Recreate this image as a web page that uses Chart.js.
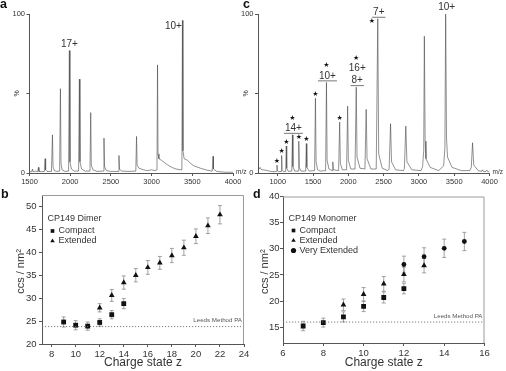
<!DOCTYPE html>
<html>
<head>
<meta charset="utf-8">
<title>CP149 mass spectra and CCS</title>
<script src="https://cdn.jsdelivr.net/npm/chart.js@4.4.0/dist/chart.umd.min.js"></script>
<style>
  html, body { margin: 0; padding: 0; background: #fff; }
  #figure { position: relative; width: 506px; height: 371px; overflow: hidden; }
  #figure canvas { position: absolute; left: 0; top: 0; }
</style>
</head>
<body>
<div id="figure">
  <canvas id="spec-a" width="506" height="371"></canvas>
  <canvas id="spec-c" width="506" height="371"></canvas>
  <canvas id="ccs-b" width="506" height="371"></canvas>
  <canvas id="ccs-d" width="506" height="371"></canvas>
</div>
<script>
// panel a: dimer spectrum (m/z, %)
const specAMz = [1500, 1528, 1537, 1543, 1575, 1600, 1610, 1616, 1650, 1682, 1692, 1698, 1715,
  1770, 1782, 1789, 1805, 1835, 1870, 1880, 1887, 1900, 1935, 1980, 1990, 1997, 2015, 2050,
  2103, 2113, 2120, 2140, 2185, 2243, 2252, 2259, 2280, 2330, 2406, 2415, 2422, 2445, 2500,
  2590, 2599, 2606, 2630, 2720, 2806, 2815, 2822, 2845, 2900, 2950, 3000, 3040, 3066,
  3073, 3079, 3090, 3120, 3160, 3200, 3250, 3300, 3360, 3372,
  3379, 3385, 3400, 3440, 3480, 3520, 3600, 3680, 3745, 3755, 3760, 3800, 3900, 4000];
const specAPct = [0.8, 0.8, 2.5, 0.8, 1.2, 0.8, 3.5, 1, 0.8, 1, 9, 2, 1,
  1, 24, 4, 1.5, 1, 1.2, 53, 6, 2, 1, 1.2, 77, 7, 2.5, 1.2,
  1.2, 59, 7, 2.5, 1.2, 1.2, 38, 5, 2, 1, 1.2, 22, 4, 1.5, 1,
  1, 11, 2.5, 1.2, 1, 1.2, 23, 5, 3, 2, 1.5, 2, 1.5, 2,
  68, 12, 9, 8, 6.5, 5, 3.5, 2.5, 2, 2,
  96, 14, 9, 8, 6, 4.5, 3, 1.8, 1.2, 10.5, 2.5, 1, 0.5, 0.5];
const specATicks = [1500, 2000, 2500, 3000, 3500, 4000];
const specALabelMz = [1990, 3379];
const specALabelText = ['17+', '10+'];

// panel c: monomer + dimer spectrum
const specCMz = [720, 735, 750, 770, 800, 850, 900, 960, 980, 989, 995, 1010,
  1046, 1055, 1061, 1085, 1112, 1121, 1127, 1150, 1199, 1208, 1215, 1240,
  1289, 1298, 1305, 1330, 1395, 1405, 1412, 1445, 1522, 1534, 1543, 1565, 1600,
  1678, 1690, 1699, 1725, 1770, 1780, 1788, 1862, 1877, 1887, 1915,
  1975, 1990, 2000, 2035, 2095, 2112, 2123, 2165, 2235, 2253, 2265, 2320,
  2395, 2417, 2430, 2480, 2560, 2578, 2598, 2612, 2670, 2780, 2794, 2814, 2830, 2900,
  3030, 3052, 3068, 3077, 3088, 3100, 3160, 3280, 3350, 3368, 3379, 3391, 3405, 3470, 3600, 3720,
  3742, 3760, 3777, 3840, 3890, 3900, 3912, 3950, 3962, 3975, 4000];
const specCPct = [4, 2.5, 3.5, 2, 2, 1.5, 1, 0.8, 1, 5, 1.5, 0.8,
  1, 11, 2, 0.8, 1, 17, 3, 1, 1.2, 24, 4, 1.2,
  1.2, 20, 3.5, 1.2, 1.2, 18.5, 3.5, 1.2, 1.5, 47, 7, 2, 1.2,
  1.5, 57, 8, 2.5, 1.5, 7, 2, 1.5, 32, 6, 2,
  2, 42, 8, 2.5, 2.5, 54, 10, 3, 2.5, 40, 9, 2.5,
  2.5, 97, 12, 3, 1.5, 2.5, 31, 7, 2, 1.5, 3, 29.5, 7, 2,
  1.5, 4, 14, 86, 20, 9, 3.5, 1.5, 4.5, 16, 100, 22, 10, 3.5, 1.5, 1.5,
  3.5, 19, 5, 1.5, 1, 2, 1, 1, 1.8, 0.8, 0.8];
const specCTicks = [1000, 1500, 2000, 2500, 3000, 3500, 4000];
const specCStarMz = [989, 1055, 1121, 1208, 1298, 1405, 1534, 1690, 1877, 2112, 2417];
const specCLabelMz = [1208, 1690, 2112, 2417, 3379];
const specCLabelText = [['14+'], ['10+'], ['16+', '8+'], ['7+'], ['10+']];
const specCUnderlined = [true, true, true, true, false];
const specPctTicks = [0, 50, 100];

// panel b: CP149 dimer CCS
const dimerCompactZ = [9, 10, 11, 12, 13, 14];
const dimerCompactCcs = [24.8, 24.1, 23.9, 24.7, 26.4, 28.8];
const dimerCompactErr = [1.1, 1.0, 0.9, 0.8, 0.9, 1.1];
const dimerExtendedZ = [12, 13, 14, 15, 16, 17, 18, 19, 20, 21, 22];
const dimerExtendedCcs = [27.9, 30.6, 33.4, 35.0, 36.7, 37.7, 39.3, 41.0, 43.5, 45.8, 48.2];
const dimerExtendedErr = [0.9, 1.3, 1.45, 1.45, 1.5, 1.4, 1.55, 1.65, 1.6, 1.7, 2.0];
const dimerLeedsPa = 23.8;
const dimerZTicks = [8, 10, 12, 14, 16, 18, 20, 22, 24];
const dimerCcsTicks = [20, 25, 30, 35, 40, 45, 50];

// panel d: CP149 monomer CCS
const monoCompactZ = [7, 8, 9, 10, 11, 12];
const monoCompactCcs = [15.25, 15.9, 17.0, 19.0, 20.7, 22.4];
const monoCompactErr = [0.9, 0.85, 0.95, 1.0, 1.05, 1.0];
const monoExtendedZ = [9, 10, 11, 12, 13];
const monoExtendedCcs = [19.3, 21.3, 23.3, 25.1, 26.8];
const monoExtendedErr = [1.1, 1.3, 1.4, 1.4, 1.4];
const monoVeryExtZ = [12, 13, 14, 15];
const monoVeryExtCcs = [27.0, 28.5, 30.1, 31.4];
const monoVeryExtErr = [1.6, 1.7, 1.75, 1.75];
const monoLeedsPa = 16.0;
const monoZTicks = [6, 8, 10, 12, 14, 16];
const monoCcsTicks = [15, 20, 25, 30, 35, 40];

const FONT = '"Liberation Sans", Arial, Helvetica, sans-serif';
const INK = '#333';
const AXIS = '#555';
const PAGE_W = 506, PAGE_H = 371;

// padding so the plot area lands on the wanted box
function boxPadding(box, yW, xH) {
    return { left: box.left - yW, top: box.top, right: PAGE_W - box.right, bottom: PAGE_H - box.bottom - xH };
}

function fixedTicks(values) {
    return scale => { scale.ticks = values.map(v => ({ value: v })); };
}

function drawText(ctx, str, x, y, size, o = {}) {
    ctx.save();
    ctx.font = (o.bold ? 'bold ' : '') + size + 'px ' + (o.family || FONT);
    ctx.fillStyle = o.color || INK;
    ctx.textAlign = o.align || 'left';
    ctx.textBaseline = o.baseline || 'middle';
    if (o.rotate) {
        ctx.translate(x, y);
        ctx.rotate(o.rotate);
        ctx.fillText(str, 0, 0);
    } else {
        ctx.fillText(str, x, y);
    }
    ctx.restore();
}

function drawMarker(ctx, style, x, y, r) {
    ctx.beginPath();
    if (style === 'rect') {
        const s = r * Math.SQRT1_2;
        ctx.rect(x - s, y - s, 2 * s, 2 * s);
    } else if (style === 'triangle') {
        ctx.moveTo(x, y - r);
        ctx.lineTo(x + r * 0.866, y + r * 0.5);
        ctx.lineTo(x - r * 0.866, y + r * 0.5);
        ctx.closePath();
    } else {
        ctx.arc(x, y, r, 0, Math.PI * 2);
    }
    ctx.fill();
}

// labels, stars, axis titles for the spectra
const spectrumDecor = {
    id: 'spectrumDecor',
    afterDraw(chart, args, opts) {
        const { ctx, chartArea: area } = chart;
        const x = chart.scales.x, y = chart.scales.y;
        const topOf = m => y.getPixelForValue(opts.pct[opts.mz.indexOf(m)]);

        drawText(ctx, opts.letter, opts.letterX, 7.5, 12.5, { bold: true, color: '#111', baseline: 'alphabetic' });
        drawText(ctx, '%', area.left - 12, (area.top + area.bottom) / 2, 7, { align: 'center', rotate: -Math.PI / 2 });
        drawText(ctx, 'm/z', area.right + 3, area.bottom - 1, 6.5);

        const stackTop = {};
        opts.labelMz.forEach((m, i) => {
            const px = x.getPixelForValue(m);
            const py = topOf(m);
            const lines = [].concat(opts.labelText[i]);
            if (opts.labelSide && opts.labelSide[i] === 'left') {
                drawText(ctx, lines[0], px - 0.5, py + 6, 10, { align: 'right' });
                return;
            }
            const cx = px + (opts.labelShift || 0);
            if (opts.underline && opts.underline[i]) {
                ctx.save();
                ctx.font = '10px ' + FONT;
                const w = ctx.measureText(lines[lines.length - 1]).width + 2;
                ctx.strokeStyle = '#555';
                ctx.lineWidth = 0.8;
                ctx.beginPath();
                ctx.moveTo(cx - w / 2, py - 1.5);
                ctx.lineTo(cx + w / 2, py - 1.5);
                ctx.stroke();
                ctx.restore();
            }
            let cy = py - 6.5;
            for (let k = lines.length - 1; k >= 0; k--) {
                drawText(ctx, lines[k], cx, cy, 10, { align: 'center' });
                stackTop[m] = cy;
                cy -= 12.4;
            }
        });

        (opts.starMz || []).forEach(m => {
            const px = x.getPixelForValue(m);
            const py = topOf(m);
            let sx = px;
            let sy = stackTop[m] !== undefined ? stackTop[m] - 10.5 : py - 4;
            if (sy < area.top + 2) {
                sx = px - 6;
                sy = py + 2;
            }
            drawText(ctx, '\u2605', sx, sy, 7, { align: 'center', family: '"DejaVu Sans"', color: '#111' });
        });
    }
};

// error bars, frame, legend and titles for the CCS plots
const ccsDecor = {
    id: 'ccsDecor',
    beforeDatasetsDraw(chart) {
        const { ctx } = chart;
        const x = chart.scales.x, y = chart.scales.y;
        ctx.save();
        ctx.strokeStyle = '#8c8c8c';
        ctx.lineWidth = 0.8;
        chart.data.datasets.forEach(ds => {
            if (!ds.errors) return;
            ds.data.forEach((p, i) => {
                const px = x.getPixelForValue(p.x);
                const y1 = y.getPixelForValue(p.y - ds.errors[i]);
                const y2 = y.getPixelForValue(p.y + ds.errors[i]);
                ctx.beginPath();
                ctx.moveTo(px, y1); ctx.lineTo(px, y2);
                ctx.moveTo(px - 2, y1); ctx.lineTo(px + 2, y1);
                ctx.moveTo(px - 2, y2); ctx.lineTo(px + 2, y2);
                ctx.stroke();
            });
        });
        ctx.restore();
    },
    afterDraw(chart, args, opts) {
        const { ctx, chartArea: area } = chart;
        const y = chart.scales.y;

        // grey frame on top and right
        ctx.save();
        ctx.strokeStyle = '#9a9a9a';
        ctx.lineWidth = 1;
        ctx.beginPath();
        ctx.moveTo(area.left, area.top + 0.5);
        ctx.lineTo(area.right - 0.5, area.top + 0.5);
        ctx.lineTo(area.right - 0.5, area.bottom);
        ctx.stroke();
        ctx.restore();

        drawText(ctx, opts.letter, opts.letterX, 198, 12.5, { bold: true, color: '#111', baseline: 'alphabetic' });

        // legend
        drawText(ctx, opts.title, opts.legendX - 5, opts.legendY, 9);
        ctx.save();
        ctx.fillStyle = '#111';
        chart.data.datasets.filter(ds => ds.errors).forEach((ds, i) => {
            const ly = opts.legendY + 12 + i * 10;
            drawMarker(ctx, ds.pointStyle, opts.legendX, ly, 2.6);
            drawText(ctx, ds.label, opts.legendX + 6, ly, 9);
        });
        ctx.restore();

        // Leeds line label
        drawText(ctx, 'Leeds Method PA', area.right - 2, y.getPixelForValue(opts.leeds) - 6, 6.2,
            { align: 'right', color: '#555' });

        drawText(ctx, 'ccs / nm\u00b2', opts.yTitleX, (area.top + area.bottom) / 2 + 2, 11,
            { align: 'center', rotate: -Math.PI / 2 });
        drawText(ctx, 'Charge state z', (area.left + area.right) / 2, 362.5, 12, { align: 'center' });
    }
};

// mass spectrum panel
function createSpectrumChart(id, mz, pct, xMin, xTicks, box, decor) {
    const ctx = document.getElementById(id).getContext('2d');
    return new Chart(ctx, {
        type: 'line',
        data: {
            datasets: [{
                data: mz.map((m, i) => ({ x: m, y: pct[i] })),
                borderColor: '#484848',
                borderWidth: 0.6,
                pointRadius: 0,
                tension: 0,
                fill: false
            }]
        },
        options: {
            responsive: false,
            animation: false,
            events: [],
            layout: { padding: boxPadding(box, 25, 20) },
            plugins: {
                legend: { display: false },
                tooltip: { enabled: false },
                spectrumDecor: Object.assign({ mz: mz, pct: pct }, decor)
            },
            scales: {
                x: {
                    type: 'linear',
                    min: xMin,
                    max: 4000,
                    afterBuildTicks: fixedTicks(xTicks),
                    afterFit: s => { s.height = 20; },
                    ticks: {
                        maxRotation: 0,
                        autoSkip: false,
                        color: INK,
                        padding: 1.5,
                        font: { family: FONT, size: 7.5 },
                        callback: v => String(v)
                    },
                    grid: { drawOnChartArea: false, tickLength: 3, color: AXIS },
                    border: { color: AXIS }
                },
                y: {
                    min: 0,
                    max: 100,
                    afterBuildTicks: fixedTicks(specPctTicks),
                    afterFit: s => { s.width = 25; },
                    ticks: {
                        color: INK,
                        padding: 1.5,
                        font: { family: FONT, size: 7.5 },
                        callback: v => (v === 0 || v === 100) ? String(v) : ''
                    },
                    grid: { drawOnChartArea: false, tickLength: 3, color: AXIS },
                    border: { color: AXIS }
                }
            }
        },
        plugins: [spectrumDecor]
    });
}

// CCS vs charge state panel
function createCcsChart(id, box, xRange, yRange, xTicks, yTicks, sets, leeds, decor) {
    const ctx = document.getElementById(id).getContext('2d');
    const datasets = [{
        type: 'line',
        data: [{ x: xRange[0], y: leeds }, { x: xRange[1], y: leeds }],
        borderColor: '#6f6f6f',
        borderWidth: 0.9,
        borderDash: [1.2, 1.8],
        pointRadius: 0
    }];
    sets.forEach(s => {
        datasets.push({
            label: s.label,
            data: s.z.map((v, i) => ({ x: v, y: s.ccs[i] })),
            errors: s.err,
            pointStyle: s.style,
            pointRadius: s.radius,
            backgroundColor: '#111',
            borderColor: '#111',
            borderWidth: 0
        });
    });

    return new Chart(ctx, {
        type: 'scatter',
        data: { datasets: datasets },
        options: {
            responsive: false,
            animation: false,
            events: [],
            layout: { padding: boxPadding(box, 30, 20) },
            plugins: {
                legend: { display: false },
                tooltip: { enabled: false },
                ccsDecor: Object.assign({ leeds: leeds }, decor)
            },
            scales: {
                x: {
                    type: 'linear',
                    min: xRange[0],
                    max: xRange[1],
                    afterBuildTicks: fixedTicks(xTicks),
                    afterFit: s => { s.height = 20; },
                    ticks: {
                        maxRotation: 0,
                        autoSkip: false,
                        color: INK,
                        padding: 2,
                        font: { family: FONT, size: 9.5 },
                        callback: v => String(v)
                    },
                    grid: { drawOnChartArea: false, tickLength: 3, color: AXIS },
                    border: { color: AXIS }
                },
                y: {
                    min: yRange[0],
                    max: yRange[1],
                    afterBuildTicks: fixedTicks(yTicks),
                    afterFit: s => { s.width = 30; },
                    ticks: {
                        color: INK,
                        padding: decor.yTickPad,
                        font: { family: FONT, size: 9.5 },
                        callback: v => String(v)
                    },
                    grid: { drawOnChartArea: false, tickLength: 3, color: AXIS },
                    border: { color: AXIS }
                }
            }
        },
        plugins: [ccsDecor]
    });
}

createSpectrumChart('spec-a', specAMz, specAPct, 1500, specATicks,
    { left: 29.5, top: 14, right: 233, bottom: 173 },
    { letter: 'a', letterX: 0, labelMz: specALabelMz, labelText: specALabelText, labelSide: ['top', 'left'] });

createSpectrumChart('spec-c', specCMz, specCPct, 720, specCTicks,
    { left: 258, top: 14, right: 489.5, bottom: 173 },
    { letter: 'c', letterX: 243, labelMz: specCLabelMz, labelText: specCLabelText,
      underline: specCUnderlined, starMz: specCStarMz, labelShift: 1 });

createCcsChart('ccs-b', { left: 42, top: 195, right: 244, bottom: 344 }, [7.2, 24], [20, 52.5],
    dimerZTicks, dimerCcsTicks, [
    { label: 'Compact', z: dimerCompactZ, ccs: dimerCompactCcs, err: dimerCompactErr, style: 'rect', radius: 3.4 },
    { label: 'Extended', z: dimerExtendedZ, ccs: dimerExtendedCcs, err: dimerExtendedErr, style: 'triangle', radius: 3.3 }
], dimerLeedsPa, { letter: 'b', letterX: 1, title: 'CP149 Dimer', legendX: 52.5, legendY: 219, yTitleX: 20.5, yTickPad: 2.5 });

createCcsChart('ccs-d', { left: 283, top: 196.5, right: 484.5, bottom: 343 }, [6, 16], [12, 40],
    monoZTicks, monoCcsTicks, [
    { label: 'Compact', z: monoCompactZ, ccs: monoCompactCcs, err: monoCompactErr, style: 'rect', radius: 3.4 },
    { label: 'Extended', z: monoExtendedZ, ccs: monoExtendedCcs, err: monoExtendedErr, style: 'triangle', radius: 3.3 },
    { label: 'Very Extended', z: monoVeryExtZ, ccs: monoVeryExtCcs, err: monoVeryExtErr, style: 'circle', radius: 2.4 }
], monoLeedsPa, { letter: 'd', letterX: 253, title: 'CP149 Monomer', legendX: 293.5, legendY: 218.5, yTitleX: 265, yTickPad: 0.5 });
</script>
</body>
</html>
